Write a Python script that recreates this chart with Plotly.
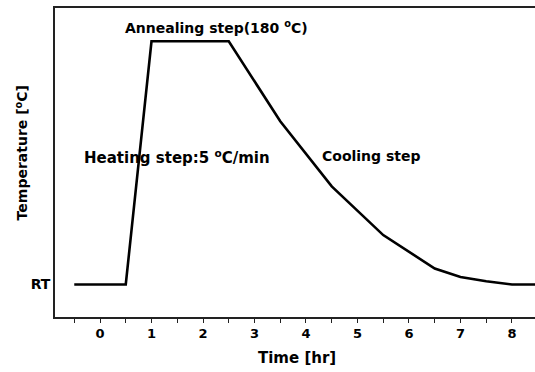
import plotly.graph_objects as go

time_hr = [-0.5, 0.5, 1.0, 2.5, 3.5, 4.5, 5.5, 6.5, 7.0, 7.5, 8.0, 8.6]
temp_c = [25, 25, 180, 180, 129, 87.5, 56.5, 35.2, 29.8, 27.1, 25, 25]
x_ticks = [0, 1, 2, 3, 4, 5, 6, 7, 8]
y_tick_vals = [25]
y_tick_text = ["RT"]

FONT = "DejaVu Sans, Liberation Sans, sans-serif"

fig = go.Figure()
fig.add_trace(go.Scatter(x=time_hr, y=temp_c, mode="lines",
                         line=dict(color="black", width=2.6), showlegend=False,
                         cliponaxis=True))

fig.add_annotation(x=0.45, y=182, xref="x", yref="y", text="Annealing step(180 <sup>o</sup>C)",
                   showarrow=False, xanchor="left", yanchor="bottom",
                   font=dict(family=FONT, size=14, color="black", weight="bold"))
fig.add_annotation(x=-0.35, y=106, xref="x", yref="y", text="Heating step:5 <sup>o</sup>C/min",
                   showarrow=False, xanchor="left", yanchor="middle",
                   font=dict(family=FONT, size=15, color="black", weight="bold"))
fig.add_annotation(x=4.27, y=107, xref="x", yref="y", text="Cooling step",
                   showarrow=False, xanchor="left", yanchor="middle",
                   font=dict(family=FONT, size=14, color="black", weight="bold"))
fig.add_annotation(x=(297 - 55) / 480, y=-(358 - 316.7) / 308.2, xref="paper", yref="paper",
                   text="Time [hr]", showarrow=False, xanchor="center", yanchor="middle",
                   font=dict(family=FONT, size=15, color="black", weight="bold"))
fig.add_annotation(x=-(55 - 22) / 480, y=(316.7 - 153.5) / 308.2, xref="paper", yref="paper",
                   text="Temperature [<sup>o</sup>C]", textangle=-90, showarrow=False,
                   xanchor="center", yanchor="middle",
                   font=dict(family=FONT, size=14, color="black", weight="bold"))

fig.update_layout(
    width=535, height=372,
    margin=dict(l=55, r=0, t=8, b=55),
    paper_bgcolor="white", plot_bgcolor="white",
    font=dict(family=FONT, color="black"),
    xaxis=dict(range=[-0.874, 8.447], tickvals=x_ticks, ticks="outside", ticklen=4,
               tickwidth=1.3, tickcolor="#222",
               minor=dict(dtick=0.5, tick0=0, ticks="outside", ticklen=4, tickwidth=1.3, tickcolor="#222"),
               showline=True, linecolor="#222", linewidth=1.6, mirror=True,
               showgrid=False, zeroline=False,
               tickfont=dict(family=FONT, size=13, color="black", weight="bold")),
    yaxis=dict(range=[4.3, 201.2], tickvals=y_tick_vals, ticktext=y_tick_text, ticks="",
               showline=True, linecolor="#222", linewidth=1.6, showgrid=False, zeroline=False,
               tickfont=dict(family=FONT, size=14, color="black", weight="bold")),
)

fig.write_html("out.html")
